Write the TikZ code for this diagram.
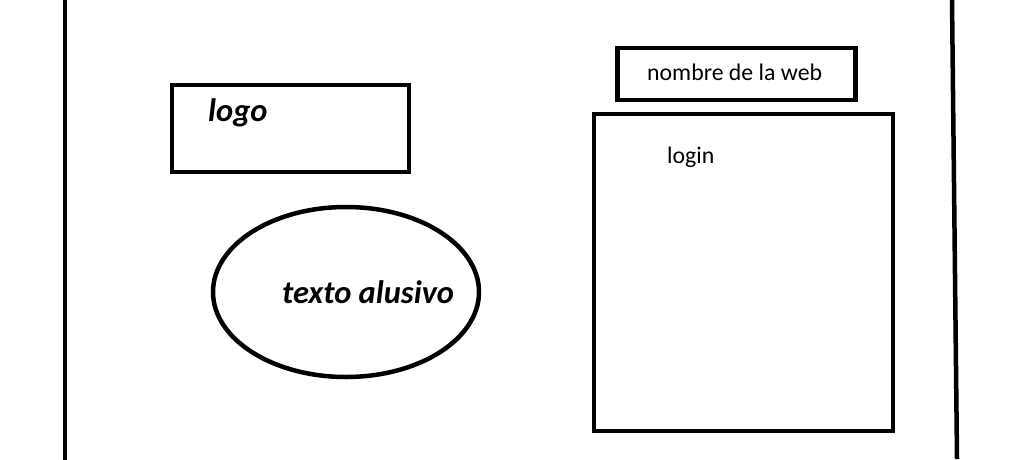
\documentclass[tikz,border=0pt]{standalone}
\usepackage{fontspec}
\setmainfont{Carlito}
\begin{document}
\begin{tikzpicture}[x=1pt,y=-1pt,
  thick line/.style={line width=4.5pt},
  boxshape/.style={thick line, draw=black},
  bigtxt/.style={font=\fontsize{32.5}{36}\selectfont\bfseries\itshape, inner sep=0pt},
  smalltxt/.style={font=\fontsize{23.8}{28}\selectfont, inner sep=0pt}]
\useasboundingbox (0,0) rectangle (1030,460);
\fill[white] (0,0) rectangle (1030,460);
% side lines
\coordinate (lt) at (65,0);
\coordinate (lb) at (65,460);
\coordinate (rt) at (952,0);
\coordinate (rb) at (957,459);
\draw[thick line] (lt) -- (lb);
\draw[thick line] (rt) -- (rb);
% logo box
\node[boxshape, minimum width=237pt, minimum height=87pt, inner sep=0pt] (logobox) at (290.5,128.5) {};
\node[bigtxt, anchor=base west] (logo) at (208,121) {logo};
% ellipse
\draw[thick line] (346,292) ellipse [x radius=133, y radius=85];
\coordinate (ell) at (346,292);
\node[bigtxt, anchor=base west] (texto) at (282,303) {texto alusivo};
% web name box
\node[boxshape, minimum width=238pt, minimum height=52pt, inner sep=0pt] (webbox) at (736.5,74) {};
\node[smalltxt, anchor=base west] (webname) at (647,80) {nombre de la web};
% login box
\node[boxshape, minimum width=299pt, minimum height=317pt, inner sep=0pt] (loginbox) at (743.5,272.5) {};
\node[smalltxt, anchor=base west] (login) at (667,163) {login};
\end{tikzpicture}
\end{document}
